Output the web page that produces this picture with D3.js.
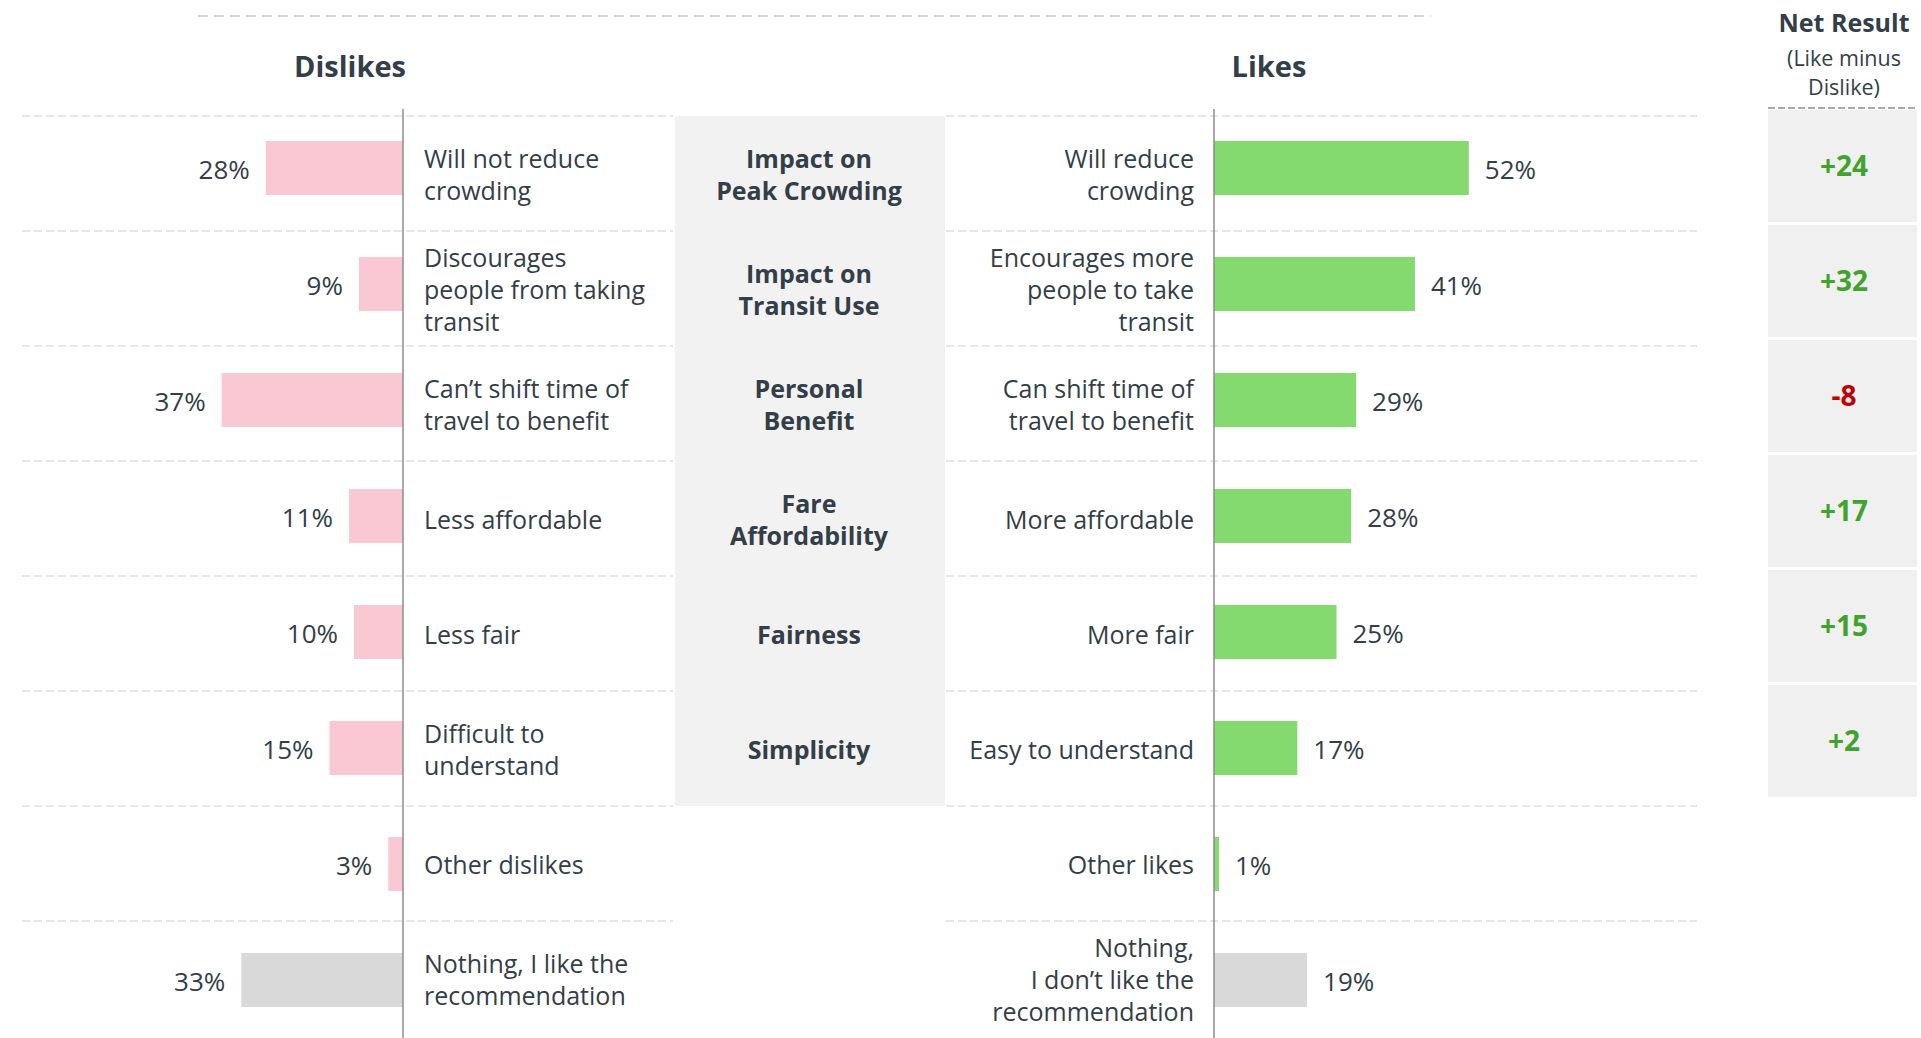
<!DOCTYPE html>
<html>
<head>
<meta charset="utf-8">
<script src="https://cdn.jsdelivr.net/npm/d3@7"></script>
<style>
  body { margin: 0; background: #fff; }
  svg { display: block; }
</style>
</head>
<body>
<script>
'use strict';

// rows of the chart, top to bottom
const rowIds = ["crowd", "transit", "benefit", "afford", "fair", "simple", "other", "nothing"];

const dislikeLabels = [
    ["Will not reduce", "crowding"],
    ["Discourages", "people from taking", "transit"],
    ["Can\u2019t shift time of", "travel to benefit"],
    ["Less affordable"],
    ["Less fair"],
    ["Difficult to", "understand"],
    ["Other dislikes"],
    ["Nothing, I like the", "recommendation"]
];
const dislikeValues = [28, 9, 37, 11, 10, 15, 3, 33];

const likeLabels = [
    ["Will reduce", "crowding"],
    ["Encourages more", "people to take", "transit"],
    ["Can shift time of", "travel to benefit"],
    ["More affordable"],
    ["More fair"],
    ["Easy to understand"],
    ["Other likes"],
    ["Nothing,", "I don\u2019t like the", "recommendation"]
];
const likeValues = [52, 41, 29, 28, 25, 17, 1, 19];

// centre topic column (first six rows only)
const topics = [
    ["Impact on", "Peak Crowding"],
    ["Impact on", "Transit Use"],
    ["Personal", "Benefit"],
    ["Fare", "Affordability"],
    ["Fairness"],
    ["Simplicity"]
];

// net result (like minus dislike)
const netValues = [24, 32, -8, 17, 15, 2];

const W = 1921, H = 1038;
const textColor = "#333e48";
const font = "'Open Sans', 'Noto Sans', sans-serif";

const svg = d3.select("body").append("svg")
    .attr("width", W)
    .attr("height", H)
    .style("font-family", font);

// scales: rows (separators, labels) and bars use slightly different bands
let y = d3.scaleBand().domain(rowIds).range([116, 116 + 8 * 115]);
let yBar = d3.scaleBand().domain(rowIds).range([113, 113 + 8 * 116]);
let xL = d3.scaleLinear().domain([0, 100]).range([403, 403 - 490]);
let xR = d3.scaleLinear().domain([0, 100]).range([1214, 1214 + 490]);
let barH = 54;

// helper to write multi line text centred on cy
function multiText(g, lines, x, cy, anchor, size, weight, lh) {
    let t = g.append("text")
        .attr("x", x)
        .attr("text-anchor", anchor)
        .style("font-size", size + "px")
        .style("font-weight", weight)
        .attr("fill", textColor);
    let top = cy - (lines.length - 1) * lh / 2;
    lines.forEach((l, i) => {
        t.append("tspan")
            .attr("x", x)
            .attr("y", top + i * lh)
            .attr("dy", "0.35em")
            .text(l);
    });
    return t;
}

// top dashed line
svg.append("line")
    .attr("x1", 198).attr("x2", 1431)
    .attr("y1", 16).attr("y2", 16)
    .attr("stroke", "#d4d4d4")
    .attr("stroke-width", 2)
    .attr("stroke-dasharray", "10,6");

// section titles
svg.append("text")
    .attr("x", 350).attr("y", 67).attr("dy", "0.35em")
    .attr("text-anchor", "middle")
    .style("font-size", "29px").style("font-weight", "bold")
    .attr("fill", textColor)
    .text("Dislikes");

svg.append("text")
    .attr("x", 1269).attr("y", 67).attr("dy", "0.35em")
    .attr("text-anchor", "middle")
    .style("font-size", "29px").style("font-weight", "bold")
    .attr("fill", textColor)
    .text("Likes");

// net result header
svg.append("text")
    .attr("x", 1844).attr("y", 23).attr("dy", "0.35em")
    .attr("text-anchor", "middle")
    .style("font-size", "25px").style("font-weight", "bold")
    .attr("fill", textColor)
    .text("Net Result");
["(Like minus", "Dislike)"].forEach((l, i) => {
    svg.append("text")
        .attr("x", 1844).attr("y", 58 + i * 29.5).attr("dy", "0.35em")
        .attr("text-anchor", "middle")
        .style("font-size", "21.5px")
        .attr("fill", textColor)
        .text(l);
});

svg.append("line")
    .attr("x1", 1768).attr("x2", 1917)
    .attr("y1", 108).attr("y2", 108)
    .attr("stroke", "#aaa")
    .attr("stroke-width", 2)
    .attr("stroke-dasharray", "7,3");

// centre grey panel
svg.append("rect")
    .attr("x", 675).attr("width", 270)
    .attr("y", y(rowIds[0]))
    .attr("height", y.step() * topics.length)
    .attr("fill", "#f2f2f2");

// row separators
svg.selectAll(".sepL")
    .data(rowIds)
    .enter()
    .append("line")
    .attr("x1", 22).attr("x2", 673)
    .attr("y1", (d) => y(d)).attr("y2", (d) => y(d))
    .attr("stroke", "#e6e6e6")
    .attr("stroke-width", 2)
    .attr("stroke-dasharray", "8,4");

svg.selectAll(".sepR")
    .data(rowIds)
    .enter()
    .append("line")
    .attr("x1", 946).attr("x2", 1697)
    .attr("y1", (d) => y(d)).attr("y2", (d) => y(d))
    .attr("stroke", "#e6e6e6")
    .attr("stroke-width", 2)
    .attr("stroke-dasharray", "8,4");

// bars
function barTop(d) { return yBar(d) + (yBar.step() - barH) / 2 - 3; }
function barColor(i, base) { return rowIds[i] == "nothing" ? "#d9d9d9" : base; }

svg.selectAll(".dbar")
    .data(dislikeValues)
    .enter()
    .append("rect")
    .attr("x", (d) => xL(d))
    .attr("width", (d) => xL(0) - xL(d))
    .attr("y", (d, i) => barTop(rowIds[i]))
    .attr("height", barH)
    .attr("fill", (d, i) => barColor(i, "#f9c8d3"));

svg.selectAll(".lbar")
    .data(likeValues)
    .enter()
    .append("rect")
    .attr("x", xR(0))
    .attr("width", (d) => xR(d) - xR(0))
    .attr("y", (d, i) => barTop(rowIds[i]))
    .attr("height", barH)
    .attr("fill", (d, i) => barColor(i, "#84d96f"));

// value labels
svg.selectAll(".dval")
    .data(dislikeValues)
    .enter()
    .append("text")
    .attr("x", (d) => xL(d) - 16)
    .attr("y", (d, i) => barTop(rowIds[i]) + barH / 2 + 2)
    .attr("dy", "0.35em")
    .attr("text-anchor", "end")
    .style("font-size", "26px")
    .attr("fill", textColor)
    .text((d) => d + "%");

svg.selectAll(".lval")
    .data(likeValues)
    .enter()
    .append("text")
    .attr("x", (d) => xR(d) + 16)
    .attr("y", (d, i) => barTop(rowIds[i]) + barH / 2 + 2)
    .attr("dy", "0.35em")
    .attr("text-anchor", "start")
    .style("font-size", "26px")
    .attr("fill", textColor)
    .text((d) => d + "%");

// axis lines
let axisTop = 109;
[xL(0), xR(0)].forEach((x) => {
    svg.append("line")
        .attr("x1", x).attr("x2", x)
        .attr("y1", axisTop).attr("y2", H)
        .attr("stroke", "#8c8c8c")
        .attr("stroke-width", 1.5);
});

// category labels
dislikeLabels.forEach((lines, i) => {
    multiText(svg, lines, xL(0) + 21, y(rowIds[i]) + y.step() / 2 + 2, "start", 25, "normal", 32);
});
likeLabels.forEach((lines, i) => {
    multiText(svg, lines, xR(0) - 20, y(rowIds[i]) + y.step() / 2 + 2, "end", 25, "normal", 32);
});

// topic labels
topics.forEach((lines, i) => {
    multiText(svg, lines, 809, y(rowIds[i]) + y.step() / 2 + 2, "middle", 25, "bold", 32);
});

// net result boxes
svg.selectAll(".netbox")
    .data(netValues)
    .enter()
    .append("rect")
    .attr("x", 1768).attr("width", 149)
    .attr("y", (d, i) => y(rowIds[i]) - 6)
    .attr("height", y.step() - 3)
    .attr("fill", "#f0f0f0");

svg.selectAll(".netval")
    .data(netValues)
    .enter()
    .append("text")
    .attr("x", 1844)
    .attr("y", (d, i) => y(rowIds[i]) - 6 + (y.step() - 3) / 2)
    .attr("dy", "0.35em")
    .attr("text-anchor", "middle")
    .style("font-size", "28px")
    .style("font-weight", "bold")
    .attr("fill", (d) => d < 0 ? "#c00000" : "#3fa32d")
    .text((d) => d < 0 ? String(d) : "+" + d);
</script>
</body>
</html>
